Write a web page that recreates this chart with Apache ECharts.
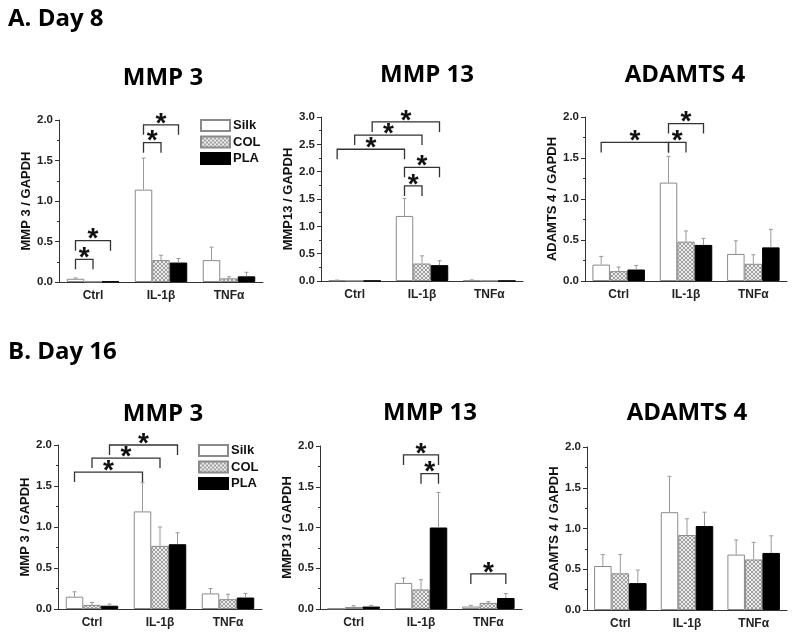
<!DOCTYPE html>
<html><head><meta charset="utf-8">
<script src="https://cdn.jsdelivr.net/npm/echarts@6/dist/echarts.min.js"></script>
<style>html,body{margin:0;padding:0;background:#fff}#c{width:800px;height:640px}</style>
</head><body><div id="c"></div>
<script>
// ---------- data ----------
const categories = ['Ctrl', 'IL-1β', 'TNFα'];
const groupNames = ['Silk', 'COL', 'PLA'];

// Day 8, MMP 3
const d8_mmp3_silk = [0.04, 1.14, 0.27];
const d8_mmp3_silk_err = [0.01, 0.39, 0.16];
const d8_mmp3_col = [0.006, 0.27, 0.045];
const d8_mmp3_col_err = [0.0, 0.06, 0.02];
const d8_mmp3_pla = [0.006, 0.24, 0.07];
const d8_mmp3_pla_err = [0.0, 0.05, 0.05];
const d8_mmp3_sig = [[0, 0, 0, 1, 0.28], [0, 0, 0, 2, 0.51], [1, 0, 1, 1, 1.72], [1, 0, 1, 2, 1.94]];

// Day 8, MMP 13
const d8_mmp13_silk = [0.012, 1.19, 0.01];
const d8_mmp13_silk_err = [0.005, 0.32, 0.01];
const d8_mmp13_col = [0.004, 0.32, 0.003];
const d8_mmp13_col_err = [0.0, 0.14, 0.0];
const d8_mmp13_pla = [0.004, 0.29, 0.003];
const d8_mmp13_pla_err = [0.0, 0.08, 0.0];
const d8_mmp13_sig = [[0, 0, 1, 0, 2.41], [0, 1, 1, 1, 2.67], [0, 2, 1, 2, 2.91], [1, 0, 1, 2, 2.08], [1, 0, 1, 1, 1.74]];

// Day 8, ADAMTS 4
const d8_adamts4_silk = [0.20, 1.20, 0.33];
const d8_adamts4_silk_err = [0.10, 0.32, 0.16];
const d8_adamts4_col = [0.12, 0.48, 0.21];
const d8_adamts4_col_err = [0.05, 0.13, 0.11];
const d8_adamts4_pla = [0.14, 0.44, 0.41];
const d8_adamts4_pla_err = [0.05, 0.08, 0.22];
const d8_adamts4_sig = [[0, 0, 1, 0, 1.69], [1, 0, 1, 1, 1.69], [1, 0, 1, 2, 1.92]];

// Day 16, MMP 3
const d16_mmp3_silk = [0.15, 1.19, 0.19];
const d16_mmp3_silk_err = [0.06, 0.35, 0.06];
const d16_mmp3_col = [0.05, 0.77, 0.12];
const d16_mmp3_col_err = [0.03, 0.23, 0.06];
const d16_mmp3_pla = [0.04, 0.79, 0.14];
const d16_mmp3_pla_err = [0.02, 0.14, 0.05];
const d16_mmp3_sig = [[0, 0, 1, 0, 1.67], [0, 1, 1, 1, 1.84], [0, 2, 1, 2, 2.0]];

// Day 16, MMP 13
const d16_mmp13_silk = [0.005, 0.32, 0.03];
const d16_mmp13_silk_err = [0.0, 0.06, 0.015];
const d16_mmp13_col = [0.025, 0.24, 0.075];
const d16_mmp13_col_err = [0.015, 0.12, 0.015];
const d16_mmp13_pla = [0.03, 1.0, 0.135];
const d16_mmp13_pla_err = [0.015, 0.43, 0.055];
const d16_mmp13_sig = [[1, 0, 1, 2, 1.89], [1, 1, 1, 2, 1.66], [2, 0, 2, 2, 0.43]];

// Day 16, ADAMTS 4
const d16_adamts4_silk = [0.54, 1.20, 0.68];
const d16_adamts4_silk_err = [0.14, 0.44, 0.18];
const d16_adamts4_col = [0.45, 0.92, 0.62];
const d16_adamts4_col_err = [0.23, 0.20, 0.21];
const d16_adamts4_pla = [0.33, 1.03, 0.70];
const d16_adamts4_pla_err = [0.16, 0.17, 0.21];
const d16_adamts4_sig = [];

const panelTitles = ['MMP 3', 'MMP 13', 'ADAMTS 4', 'MMP 3', 'MMP 13', 'ADAMTS 4'];
const yNames = ['MMP 3 / GAPDH', 'MMP13 / GAPDH', 'ADAMTS 4 / GAPDH', 'MMP 3 / GAPDH', 'MMP13 / GAPDH', 'ADAMTS 4 / GAPDH'];
const yMax = [2, 3, 2, 2, 2, 2];
const sectionLabels = ['A. Day 8', 'B. Day 16'];

// ---------- layout ----------
const grids = [
  {left: 59, top: 120, width: 204, height: 162},
  {left: 321, top: 117, width: 202, height: 164},
  {left: 585, top: 117, width: 202, height: 164},
  {left: 58, top: 445, width: 204, height: 164},
  {left: 320, top: 446, width: 202, height: 163},
  {left: 587, top: 447, width: 200, height: 163}
];
const titlePos = [[163, 78], [427, 75], [685, 75], [163, 414], [430, 413], [687, 413]];
const BAR_W = 17.5;

const panels = [
  [d8_mmp3_silk, d8_mmp3_col, d8_mmp3_pla, d8_mmp3_silk_err, d8_mmp3_col_err, d8_mmp3_pla_err, d8_mmp3_sig],
  [d8_mmp13_silk, d8_mmp13_col, d8_mmp13_pla, d8_mmp13_silk_err, d8_mmp13_col_err, d8_mmp13_pla_err, d8_mmp13_sig],
  [d8_adamts4_silk, d8_adamts4_col, d8_adamts4_pla, d8_adamts4_silk_err, d8_adamts4_col_err, d8_adamts4_pla_err, d8_adamts4_sig],
  [d16_mmp3_silk, d16_mmp3_col, d16_mmp3_pla, d16_mmp3_silk_err, d16_mmp3_col_err, d16_mmp3_pla_err, d16_mmp3_sig],
  [d16_mmp13_silk, d16_mmp13_col, d16_mmp13_pla, d16_mmp13_silk_err, d16_mmp13_col_err, d16_mmp13_pla_err, d16_mmp13_sig],
  [d16_adamts4_silk, d16_adamts4_col, d16_adamts4_pla, d16_adamts4_silk_err, d16_adamts4_col_err, d16_adamts4_pla_err, d16_adamts4_sig]
];

// hatch pattern for COL
const cv = document.createElement('canvas');
cv.width = 4; cv.height = 4;
const cx = cv.getContext('2d');
cx.fillStyle = '#ececec'; cx.fillRect(0, 0, 4, 4);
cx.fillStyle = '#a0a0a0';
for (let i = 0; i < 4; i++) { cx.fillRect(i, i, 1, 1); cx.fillRect(3 - i, i, 1, 1); }
const hatch = {image: cv, repeat: 'repeat'};

const barStyles = [
  {color: '#ffffff', borderColor: '#8a8a8a', borderWidth: 1},
  {color: hatch, borderColor: '#8a8a8a', borderWidth: 1},
  {color: '#000000', borderColor: '#000000', borderWidth: 1}
];

const FONT = 'Liberation Sans, Arial, sans-serif';
const AXIS_COLOR = '#333';

function errRender(params, api) {
  const g = api.value(0), s = api.value(1), v = api.value(2), e = api.value(3);
  if (!(e > 0)) return null;
  const x = api.coord([g, 0])[0] + (s - 1) * BAR_W;
  const y0 = api.coord([g, v])[1];
  const y1 = api.coord([g, v + e])[1];
  return {type: 'group', children: [
    {type: 'line', shape: {x1: x, y1: y0, x2: x, y2: y1}, style: {stroke: '#999', lineWidth: 1}},
    {type: 'line', shape: {x1: x - 2, y1: y1, x2: x + 2, y2: y1}, style: {stroke: '#999', lineWidth: 1}}
  ]};
}

function sigRender(params, api) {
  const g1 = api.value(0), s1 = api.value(1), g2 = api.value(2), s2 = api.value(3), y = api.value(4);
  const x1 = api.coord([g1, 0])[0] + (s1 - 1) * BAR_W;
  const x2 = api.coord([g2, 0])[0] + (s2 - 1) * BAR_W;
  const yt = api.coord([g1, y])[1];
  const leg = 10;
  return {type: 'group', children: [
    {type: 'polyline', shape: {points: [[x1, yt + leg], [x1, yt], [x2, yt], [x2, yt + leg]]},
      style: {stroke: '#333', lineWidth: 1.3, fill: null}},
    {type: 'text', style: {text: '*', x: (x1 + x2) / 2, y: yt - 1, align: 'center', verticalAlign: 'middle',
      font: 'bold 28px ' + FONT, fill: '#111'}}
  ]};
}

const xAxes = [], yAxes = [], series = [], graphics = [];
panels.forEach((p, i) => {
  xAxes.push({
    type: 'category', gridIndex: i, data: categories, position: 'bottom',
    axisLine: {lineStyle: {color: AXIS_COLOR, width: 1}},
    axisTick: {alignWithLabel: true, length: 4, lineStyle: {color: AXIS_COLOR}},
    axisLabel: {fontFamily: FONT, fontWeight: 'bold', fontSize: 12, color: '#222', margin: 8},
    splitLine: {show: false}
  });
  xAxes.push({
    type: 'category', gridIndex: i, data: categories, position: 'bottom',
    axisLine: {show: false},
    axisTick: {length: 2, lineStyle: {color: AXIS_COLOR}},
    axisLabel: {show: false}, splitLine: {show: false}
  });
  yAxes.push({
    type: 'value', gridIndex: i, min: 0, max: yMax[i], interval: 0.5,
    name: yNames[i], nameLocation: 'middle', nameGap: 26,
    nameTextStyle: {fontFamily: FONT, fontWeight: 'bold', fontSize: 13, color: '#111'},
    axisLine: {show: true, lineStyle: {color: AXIS_COLOR, width: 1}},
    axisTick: {show: true, length: 4, lineStyle: {color: AXIS_COLOR}},
    minorTick: {show: true, splitNumber: 2, length: 2, lineStyle: {color: AXIS_COLOR}},
    axisLabel: {fontFamily: FONT, fontWeight: 'bold', fontSize: 11.5, color: '#222', margin: 6,
      formatter: v => v.toFixed(1)},
    splitLine: {show: false}
  });
  const vals = [p[0], p[1], p[2]];
  const errs = [p[3], p[4], p[5]];
  for (let s = 0; s < 3; s++) {
    series.push({
      type: 'bar', name: groupNames[s], xAxisIndex: 2 * i, yAxisIndex: i,
      data: vals[s], barWidth: BAR_W, barGap: '0%', itemStyle: barStyles[s],
      emphasis: {disabled: true}, z: 2
    });
  }
  const errData = [];
  for (let s = 0; s < 3; s++) for (let g = 0; g < 3; g++) errData.push([g, s, vals[s][g], errs[s][g]]);
  series.push({type: 'custom', xAxisIndex: 2 * i, yAxisIndex: i, renderItem: errRender, data: errData,
    encode: {x: 0, y: 2}, z: 3, silent: true});
  if (p[6].length) {
    series.push({type: 'custom', xAxisIndex: 2 * i, yAxisIndex: i, renderItem: sigRender, data: p[6],
      encode: {x: 0, y: 4}, z: 4, silent: true, clip: false});
  }
  graphics.push({type: 'text', x: titlePos[i][0], y: titlePos[i][1],
    style: {text: panelTitles[i], align: 'center', verticalAlign: 'middle',
      font: 'bold 24px "Open Sans", sans-serif', fill: '#000'}});
});
graphics.push({type: 'text', x: 8, y: 19, style: {text: sectionLabels[0], align: 'left', verticalAlign: 'middle',
  font: 'bold 24px "Open Sans", sans-serif', fill: '#000'}});
graphics.push({type: 'text', x: 8, y: 352, style: {text: sectionLabels[1], align: 'left', verticalAlign: 'middle',
  font: 'bold 24px "Open Sans", sans-serif', fill: '#000'}});

const legendBase = {
  orient: 'vertical', data: groupNames, itemWidth: 29, itemHeight: 11, itemGap: 3.5, padding: 0,
  icon: 'rect', selectedMode: false,
  textStyle: {fontFamily: FONT, fontWeight: 'bold', fontSize: 13, color: '#111', padding: [0, 0, 0, -2]}
};

const chart = echarts.init(document.getElementById('c'), null, {renderer: 'canvas'});
chart.setOption({
  animation: false,
  backgroundColor: '#ffffff',
  grid: grids.map(g => Object.assign({containLabel: false}, g)),
  xAxis: xAxes,
  yAxis: yAxes,
  legend: [
    Object.assign({left: 200, top: 119}, legendBase),
    Object.assign({left: 198, top: 444}, legendBase)
  ],
  series: series,
  graphic: graphics
});
</script>
</body></html>
